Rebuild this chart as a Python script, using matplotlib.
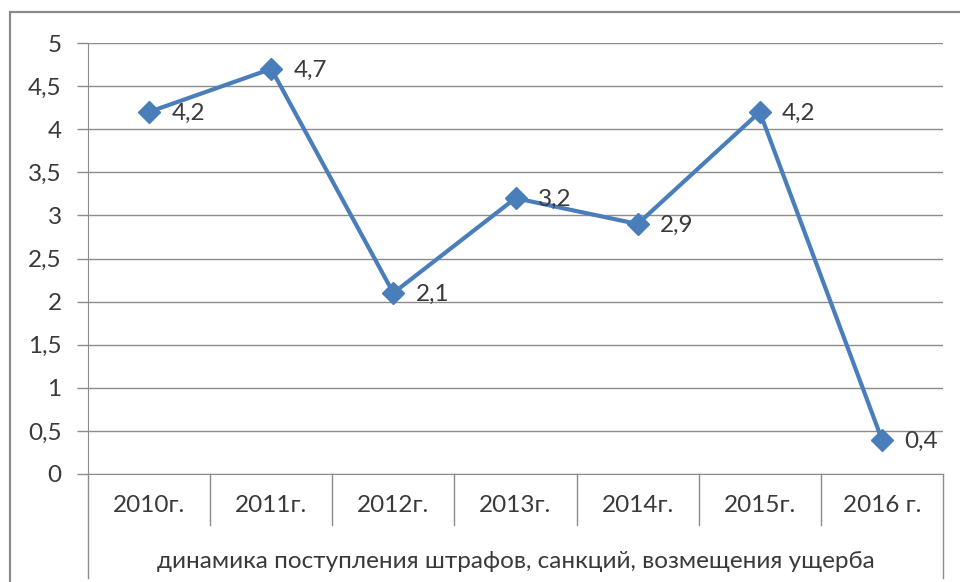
import matplotlib
matplotlib.use("Agg")
import matplotlib.pyplot as plt
from matplotlib.patches import Rectangle
import matplotlib.transforms as mtransforms

categories = ["2010г.", "2011г.", "2012г.", "2013г.", "2014г.", "2015г.", "2016 г."]
values = [4.2, 4.7, 2.1, 3.2, 2.9, 4.2, 0.4]
yticks = [0, 0.5, 1, 1.5, 2, 2.5, 3, 3.5, 4, 4.5, 5]
group_label = "динамика поступления штрафов, санкций, возмещения ущерба"

plt.rcParams['font.family'] = ['Lato', 'Open Sans', 'DejaVu Sans']
txt_color = "#3a3a3a"
grid_color = "#8c8c8c"
line_color = "#4A7EBB"
fs = 17.5

W, H = 960, 582
fig = plt.figure(figsize=(W / 100, H / 100), dpi=100)
fig.patch.set_facecolor("white")

# outer chart border
fig.patches.append(Rectangle((10 / W, -0.05), 1.0, 1 - 12 / H + 0.05,
                             transform=fig.transFigure, fill=False,
                             edgecolor="#8a8a8a", linewidth=1.6))

left, right, top, bottom = 88, 943, 43, 474
ax = fig.add_axes([left / W, 1 - bottom / H, (right - left) / W, (bottom - top) / H])
ax.set_xlim(-0.5, len(categories) - 0.5)
ax.set_ylim(0, 5)

ax.set_yticks(yticks)
ax.set_yticklabels([("%g" % v).replace(".", ",") for v in yticks])
ax.tick_params(axis="y", length=8, width=1, color=grid_color, pad=11,
               labelsize=fs, labelcolor=txt_color)
ax.set_xticks([])
for y in yticks:
    ax.axhline(y, color=grid_color, linewidth=1, zorder=1)

for s in ["top", "right"]:
    ax.spines[s].set_visible(False)
ax.spines["left"].set_color(grid_color)
ax.spines["bottom"].set_color(grid_color)

ax.plot(range(len(values)), values, color=line_color, linewidth=3,
        marker="D", markersize=11, markerfacecolor=line_color,
        markeredgecolor=line_color, zorder=3, clip_on=False)

for i, v in enumerate(values):
    ax.annotate(("%g" % v).replace(".", ","), (i, v), xytext=(16, -1),
                textcoords="offset points", ha="left", va="center",
                fontsize=fs, color=txt_color, zorder=4)

# category axis boxes
trans = mtransforms.blended_transform_factory(ax.transData, ax.transAxes)
ph = bottom - top
sep_y = -(525 - bottom) / ph
out_y = -(578 - bottom) / ph
for i in range(1, len(categories)):
    ax.plot([i - 0.5, i - 0.5], [0, sep_y], transform=trans, color=grid_color,
            linewidth=1, clip_on=False)
for xx in [-0.5, len(categories) - 0.5]:
    ax.plot([xx, xx], [0, out_y], transform=trans, color=grid_color,
            linewidth=1, clip_on=False)

for i, c in enumerate(categories):
    ax.text(i, -(505 - bottom) / ph, c, transform=trans, ha="center", va="center",
            fontsize=fs, color=txt_color)

ax.text(0.5, -(562 - bottom) / ph, group_label, transform=ax.transAxes,
        ha="center", va="center", fontsize=fs, color=txt_color)

fig.savefig("out.png", dpi=100)
